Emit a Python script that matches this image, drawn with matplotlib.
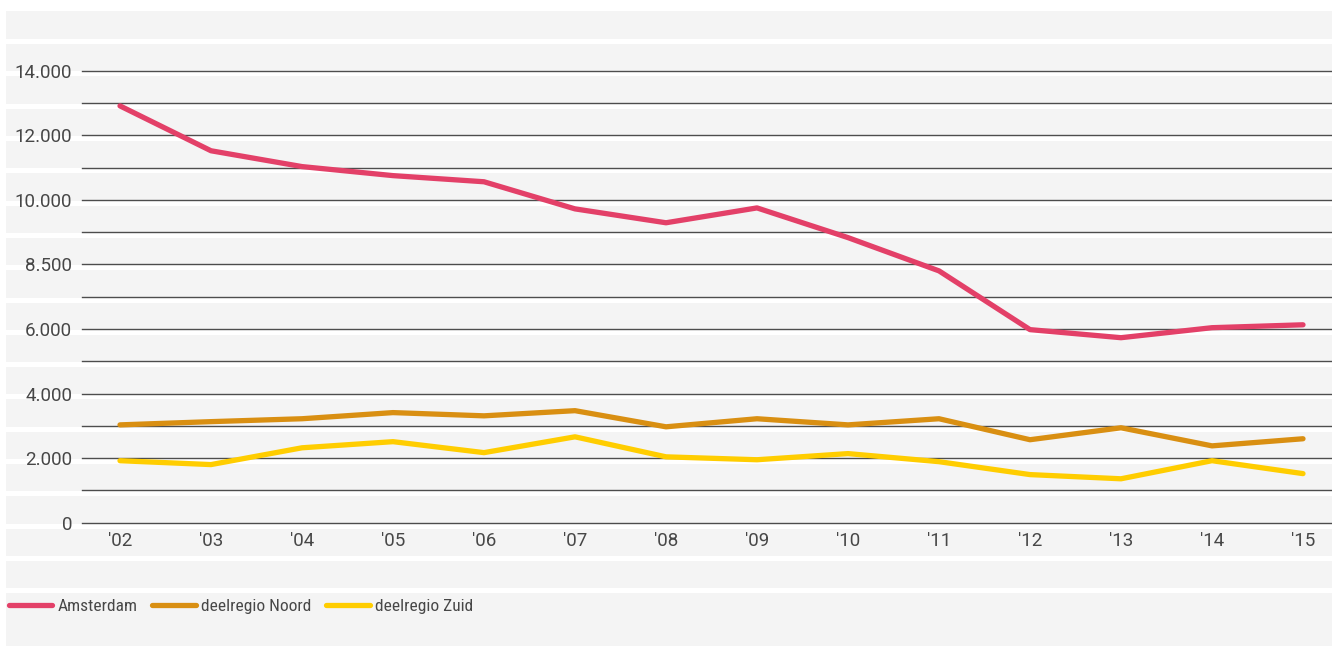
import matplotlib.pyplot as plt
from matplotlib.patches import Rectangle

W, H = 1332, 646

# data
years = list(range(2002, 2016))
xtick_labels = ["'02", "'03", "'04", "'05", "'06", "'07", "'08", "'09",
                "'10", "'11", "'12", "'13", "'14", "'15"]
amsterdam = [12910, 11520, 11030, 10750, 10560, 9720, 9290, 9750,
             8830, 7800, 5980, 5730, 6040, 6130]
noord = [3030, 3130, 3220, 3410, 3310, 3470, 2970, 3220,
         3030, 3220, 2570, 2940, 2380, 2600]
zuid = [1920, 1800, 2320, 2510, 2170, 2660, 2040, 1950,
        2140, 1890, 1490, 1360, 1920, 1520]
ytick_vals = [0, 2000, 4000, 6000, 8000, 10000, 12000, 14000]
ytick_labels = ['0', '2.000', '4.000', '6.000', '8.500', '10.000', '12.000', '14.000']
series_names = ['Amsterdam', 'deelregio Noord', 'deelregio Zuid']
colors = ['#e34068', '#d98f12', '#ffcd00']

plt.rcParams['font.family'] = ['Roboto', 'Open Sans', 'DejaVu Sans']
legend_family = ['Roboto Condensed', 'Liberation Sans Narrow', 'DejaVu Sans']
txt_color = '#474747'

fig = plt.figure(figsize=(W / 100, H / 100), dpi=100)
fig.patch.set_facecolor('white')

# striped table-like background
bg = fig.add_axes([0, 0, 1, 1], zorder=-1)
bg.set_xlim(0, W)
bg.set_ylim(H, 0)
bg.axis('off')
bg.add_patch(Rectangle((6, 11), W - 6, H - 11, color='#f4f4f4', lw=0))
for k in range(18):
    y0 = 38.4 + 32.29 * k
    bg.add_patch(Rectangle((6, y0 + 0.8), W - 6, 5, color='white', lw=0))

# main plot
top, bottom = 70.7, 522.7
ax = fig.add_axes([82 / W, 1 - bottom / H, 1 - 82 / W, (bottom - top) / H])
ax.patch.set_alpha(0)
for s in ax.spines.values():
    s.set_visible(False)
ax.set_ylim(0, 14000)
ax.set_xlim(2002 - 38 / 91, 2002 + (W - 120) / 91)

for v in range(0, 15000, 1000):
    ax.axhline(v, color='#4d4d4d', lw=1, zorder=1, clip_on=False)

for vals, name, c in zip([amsterdam, noord, zuid], series_names, colors):
    ax.plot(years, vals, color=c, lw=3.8, label=name, zorder=3,
            solid_capstyle='round', solid_joinstyle='round')

ax.set_yticks(ytick_vals)
ax.set_yticklabels(ytick_labels)
ax.set_xticks(years)
ax.set_xticklabels(xtick_labels)
ax.tick_params(axis='y', length=0, pad=7, labelsize=13.5, labelcolor=txt_color)
ax.tick_params(axis='x', length=0, pad=7, labelsize=13.5, labelcolor=txt_color)

handles, labels = ax.get_legend_handles_labels()
leg = fig.legend(handles, labels, loc='center left', bbox_to_anchor=(9 / W, 1 - 606 / H),
                 frameon=False, ncol=3, handlelength=2.5, handletextpad=0.3,
                 columnspacing=0.85, borderaxespad=0, borderpad=0,
                 prop={'family': legend_family, 'size': 12.5})
for t in leg.get_texts():
    t.set_color(txt_color)

fig.savefig('out.png', dpi=100, facecolor='white')
